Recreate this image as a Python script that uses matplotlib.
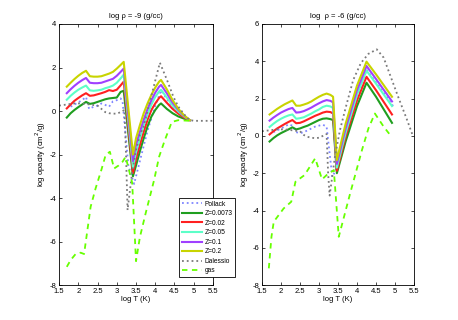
import matplotlib
matplotlib.use('Agg')
import matplotlib.pyplot as plt

plt.rcParams['font.family'] = ['Liberation Sans', 'DejaVu Sans']
plt.rcParams['axes.unicode_minus'] = False

# ---- log rho = -9 panel ----
tz_l = [1.7, 1.8, 1.9, 2.0, 2.1, 2.2, 2.3, 2.4, 2.5, 2.6, 2.7, 2.8, 2.9, 3.0, 3.1, 3.18,
        3.42, 3.5, 3.6, 3.7, 3.8, 3.9, 4.0, 4.1, 4.15, 4.3, 4.45, 4.6, 4.75, 4.9]
z0073_l = [-0.3, -0.1, 0.05, 0.18, 0.3, 0.42, 0.33, 0.36, 0.42, 0.48, 0.54, 0.58, 0.6, 0.62, 0.88, 0.93,
           -3.0, -2.5, -1.85, -1.25, -0.7, -0.25, 0.05, 0.28, 0.35, 0.1, -0.1, -0.25, -0.35, -0.42]
z002_l = [0.12, 0.3, 0.47, 0.6, 0.72, 0.82, 0.7, 0.72, 0.77, 0.82, 0.88, 0.96, 0.92, 0.98, 1.18, 1.35,
          -2.85, -2.2, -1.55, -0.95, -0.4, 0.05, 0.35, 0.6, 0.68, 0.38, 0.1, -0.12, -0.3, -0.42]
z005_l = [0.52, 0.7, 0.85, 0.98, 1.08, 1.17, 0.95, 0.93, 0.95, 0.98, 1.05, 1.1, 1.17, 1.3, 1.5, 1.67,
          -2.6, -1.9, -1.25, -0.65, -0.15, 0.3, 0.65, 0.9, 0.98, 0.62, 0.25, -0.02, -0.25, -0.42]
z01_l = [0.82, 1.0, 1.16, 1.3, 1.42, 1.52, 1.3, 1.28, 1.28, 1.3, 1.36, 1.42, 1.48, 1.62, 1.8, 1.95,
         -2.3, -1.55, -0.95, -0.4, 0.1, 0.5, 0.85, 1.12, 1.2, 0.82, 0.38, 0.05, -0.22, -0.42]
z02_l = [1.12, 1.3, 1.47, 1.62, 1.75, 1.85, 1.6, 1.58, 1.58, 1.6, 1.66, 1.72, 1.8, 1.95, 2.12, 2.26,
         -2.0, -1.25, -0.65, -0.1, 0.35, 0.75, 1.08, 1.35, 1.43, 1.0, 0.5, 0.1, -0.2, -0.42]

tp_l = [1.8, 1.9, 2.0, 2.1, 2.2, 2.28, 2.4, 2.5, 2.6, 2.7, 2.8, 2.9, 3.0, 3.1, 3.15, 3.3,
        3.45, 3.6, 3.8, 4.0, 4.15, 4.3, 4.5, 4.7, 4.9]
pollack_l = [0.2, 0.3, 0.4, 0.5, 0.65, 0.1, 0.2, 0.25, 0.35, 0.28, 0.2, 0.45, 0.5, 0.58, 0.45, -2.5,
             -3.35, -2.3, -0.9, 0.25, 0.95, 0.55, 0.05, -0.25, -0.45]

td_l = [1.5, 1.7, 1.9, 2.1, 2.3, 2.5, 2.6, 2.7, 2.8, 2.9, 3.0, 3.1, 3.2, 3.24, 3.28, 3.4, 3.5,
        3.6, 3.7, 3.8, 3.9, 4.0, 4.12, 4.3, 4.47, 4.6, 4.75, 4.88, 5.0, 5.2, 5.5]
dalessio_l = [0.25, 0.3, 0.35, 0.35, 0.3, 0.25, 0.1, -0.05, -0.1, -0.12, -0.12, -0.05, 0.05, -2.0, -4.55, -2.8, -1.8,
              -1.1, -0.7, 0.0, 0.7, 1.4, 2.22, 1.45, 0.66, 0.2, -0.15, -0.4, -0.45, -0.45, -0.45]

tg_l = [1.7, 1.8, 1.93, 2.06, 2.15, 2.32, 2.45, 2.6, 2.71, 2.82, 2.93, 3.05, 3.15, 3.23, 3.4, 3.5,
        3.6, 3.75, 3.97, 4.1, 4.25, 4.43, 4.6, 4.9]
gas_l = [-7.16, -6.85, -6.57, -6.51, -6.57, -4.4, -3.55, -2.7, -2.02, -1.87, -2.64, -2.5, -2.33, -2.1, -3.3, -6.9,
         -5.8, -4.7, -3.17, -2.1, -1.33, -0.5, -0.42, -0.45]

# ---- log rho = -6 panel ----
tz_r = [1.7, 1.8, 1.9, 2.0, 2.1, 2.2, 2.3, 2.4, 2.5, 2.6, 2.7, 2.8, 2.9, 3.0, 3.1, 3.2, 3.3, 3.37,
        3.47, 3.7, 4.0, 4.25, 4.5, 4.92]
z0073_r = [-0.3, -0.12, 0.03, 0.15, 0.25, 0.35, 0.46, 0.35, 0.4, 0.48, 0.55, 0.65, 0.75, 0.85, 0.92, 0.94, 0.9, 0.85,
           -2.0, -0.3, 1.6, 2.85, 2.1, 0.7]
z002_r = [0.08, 0.25, 0.4, 0.52, 0.64, 0.75, 0.85, 0.68, 0.7, 0.78, 0.88, 0.98, 1.08, 1.16, 1.25, 1.3, 1.28, 1.2,
          -1.87, -0.05, 1.9, 3.17, 2.45, 1.15]
z005_r = [0.48, 0.65, 0.8, 0.92, 1.02, 1.1, 1.15, 0.92, 0.95, 1.0, 1.1, 1.2, 1.32, 1.42, 1.55, 1.62, 1.58, 1.5,
          -1.7, 0.15, 2.2, 3.5, 2.8, 1.6]
z01_r = [0.82, 0.98, 1.12, 1.25, 1.35, 1.44, 1.5, 1.25, 1.27, 1.33, 1.42, 1.52, 1.64, 1.75, 1.85, 1.92, 1.88, 1.8,
         -1.5, 0.4, 2.45, 3.75, 3.05, 1.85]
z02_r = [1.15, 1.3, 1.45, 1.58, 1.7, 1.8, 1.9, 1.62, 1.62, 1.68, 1.75, 1.85, 1.98, 2.1, 2.2, 2.27, 2.2, 2.1,
         -1.3, 0.65, 2.7, 3.98, 3.3, 2.1]

tp_r = [1.8, 1.9, 2.0, 2.1, 2.2, 2.3, 2.4, 2.5, 2.6, 2.7, 2.8, 2.9, 3.0, 3.1, 3.2, 3.35,
        3.5, 3.8, 4.0, 4.25, 4.6, 4.95]
pollack_r = [0.2, 0.3, 0.4, 0.5, 0.62, 0.55, 0.2, 0.15, 0.2, 0.3, 0.4, 0.5, 0.55, 0.6, 0.5, -2.2,
             -1.6, 0.6, 2.0, 3.55, 2.6, 1.6]

td_r = [1.5, 1.7, 1.9, 2.1, 2.3, 2.5, 2.6, 2.7, 2.8, 2.9, 3.0, 3.1, 3.2, 3.24, 3.28, 3.42, 3.55,
        3.7, 3.9, 4.1, 4.3, 4.52, 4.7, 4.9, 5.1, 5.3, 5.47]
dalessio_r = [0.25, 0.3, 0.35, 0.35, 0.3, 0.25, 0.05, -0.05, -0.1, -0.12, -0.1, 0.0, 0.1, -2.0, -3.2, -1.1, 0.3,
              1.5, 3.0, 3.9, 4.4, 4.64, 4.2, 3.1, 2.0, 0.95, 0.0]

tg_r = [1.68, 1.75, 1.81, 2.07, 2.27, 2.38, 2.62, 2.9, 3.08, 3.2, 3.39, 3.52, 3.82, 4.13, 4.3, 4.47, 4.7, 4.91]
gas_r = [-7.1, -5.4, -4.6, -3.89, -3.53, -2.46, -2.1, -1.2, -2.33, -2.1, -1.83, -5.41, -3.08, -0.76, 0.4, 1.2, 0.5, -0.05]

labels = ['Pollack', 'Z=0.0073', 'Z=0.02', 'Z=0.05', 'Z=0.1', 'Z=0.2', 'Dalessio', 'gas']

c_pollack = '#7f86ff'
c_z = ['#1f9e1f', '#ff2020', '#5cffc8', '#a040ff', '#c8d400']
c_dal = '#7a7a7a'
c_gas = '#66ff00'

fig = plt.figure(figsize=(4.58, 3.2), dpi=100)
ax1 = fig.add_axes([0.129, 0.109, 0.336, 0.816])
ax2 = fig.add_axes([0.572, 0.109, 0.332, 0.816])


def panel(ax, tp, pol, tz, zs, td, dal, tg, gas):
    lines = []
    l, = ax.plot(tp, pol, ':', color=c_pollack, lw=1.3)
    lines.append(l)
    for y, c in zip(zs, c_z):
        l, = ax.plot(tz, y, '-', color=c, lw=1.5)
        lines.append(l)
    l, = ax.plot(td, dal, ':', color=c_dal, lw=1.3)
    lines.append(l)
    l, = ax.plot(tg, gas, '--', color=c_gas, lw=1.3, dashes=(3, 2.5))
    lines.append(l)
    ax.set_xlim(1.5, 5.5)
    ax.set_xticks([1.5, 2, 2.5, 3, 3.5, 4, 4.5, 5, 5.5])
    ax.set_xticklabels(['1.5', '2', '2.5', '3', '3.5', '4', '4.5', '5', '5.5'])
    ax.tick_params(direction='in', top=True, right=True, labelsize=5.5, length=2.5, width=0.5, pad=2)
    for s in ax.spines.values():
        s.set_linewidth(0.6)
    ax.set_xlabel('log T (K)', fontsize=5.5, labelpad=1)
    ax.set_ylabel('log opacity (cm$^2$/g)', fontsize=5.5, labelpad=1)
    return lines


lines = panel(ax1, tp_l, pollack_l, tz_l, [z0073_l, z002_l, z005_l, z01_l, z02_l],
              td_l, dalessio_l, tg_l, gas_l)
ax1.set_ylim(-8, 4)
ax1.set_yticks(range(-8, 5, 2))
ax1.set_title('log ρ = -9 (g/cc)', fontsize=5.5, pad=4)

panel(ax2, tp_r, pollack_r, tz_r, [z0073_r, z002_r, z005_r, z01_r, z02_r],
      td_r, dalessio_r, tg_r, gas_r)
ax2.set_ylim(-8, 6)
ax2.set_yticks(range(-8, 7, 2))
ax2.set_title('log  ρ = -6 (g/cc)', fontsize=5.5, pad=4)

leg = ax1.legend(lines, labels, loc='lower left', bbox_to_anchor=(0.391, 0.134),
                 bbox_transform=fig.transFigure, fontsize=4.8, fancybox=False,
                 edgecolor='black', framealpha=1, handlelength=3.0, labelspacing=0.38,
                 borderpad=0.4, handletextpad=0.4, borderaxespad=0)
leg.get_frame().set_linewidth(0.6)

fig.savefig('out.png', dpi=100)
